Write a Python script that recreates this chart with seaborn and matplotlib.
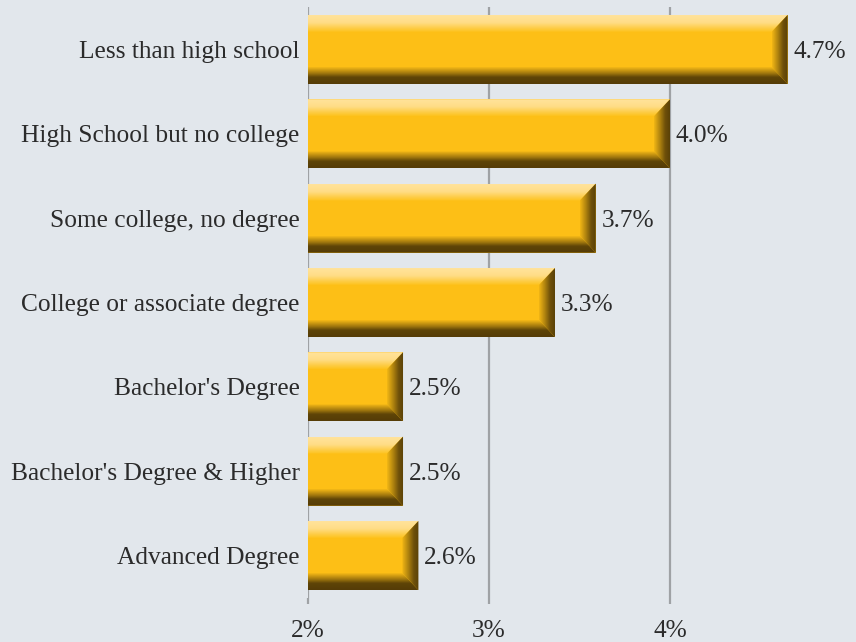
import numpy as np
import pandas as pd
import matplotlib
matplotlib.use("Agg")
import matplotlib.pyplot as plt
from matplotlib.patches import Polygon
from matplotlib.colors import to_rgba
import seaborn as sns

categories = ["Less than high school", "High School but no college",
              "Some college, no degree", "College or associate degree",
              "Bachelor's Degree", "Bachelor's Degree & Higher", "Advanced Degree"]
values = [4.65, 4.00, 3.59, 3.365, 2.525, 2.525, 2.61]
value_labels = ["4.7%", "4.0%", "3.7%", "3.3%", "2.5%", "2.5%", "2.6%"]
x_ticks = [2, 3, 4]
x_tick_labels = ["2%", "3%", "4%"]

BG = "#E2E7EC"
BAR = "#FDBF16"
TXT = "#2B2B2B"
GRID = "#9FA2A5"
FS = 18.3

sns.set_theme(style="white")
plt.rcParams["font.family"] = ["Liberation Serif", "DejaVu Serif"]

W, H = 856, 642
fig = plt.figure(figsize=(W / 100, H / 100), dpi=100, facecolor=BG)
ax_l, ax_r, ax_t, ax_b = 308, 851, 7.3, 597.7
ax = fig.add_axes([ax_l / W, (H - ax_b) / H, (ax_r - ax_l) / W, (ax_b - ax_t) / H])
ax.set_facecolor(BG)

df = pd.DataFrame({"category": categories, "value": values})
sns.barplot(data=df, x="value", y="category", orient="h", color=BAR,
            saturation=1, width=0.82, linewidth=0, edgecolor="none",
            ax=ax, zorder=3)

ax.set_xlim(2, 5)
ax.set_ylim(6.5, -0.5)
ax.set_xlabel("")
ax.set_ylabel("")
for s in ax.spines.values():
    s.set_visible(False)

ax.set_xticks(x_ticks)
ax.set_xticklabels(x_tick_labels, fontsize=FS, color=TXT)
ax.xaxis.grid(True, color=GRID, linewidth=1.6, zorder=0)
ax.set_axisbelow(True)
ax.tick_params(axis="x", bottom=True, length=4, width=1.6, color=GRID, pad=12)
ax.tick_params(axis="y", left=False, length=0, pad=6)
for lab in ax.get_yticklabels():
    lab.set_fontsize(FS)
    lab.set_color(TXT)

pxx = (ax_r - ax_l) / 3.0
pxy = (ax_b - ax_t) / 7.0
bx, by = 16.0 / pxx, 17.0 / pxy


def grad_poly(verts, stops, direction):
    n = 96
    t = np.linspace(0, 1, n)
    pos = [s[0] for s in stops]
    cs = np.array([to_rgba(s[1]) for s in stops])
    cols = np.stack([np.interp(t, pos, cs[:, k]) for k in range(4)], axis=1)
    if direction == "v":
        arr = cols[:, None, :]
    else:
        arr = cols[None, :, :]
    xs = [v[0] for v in verts]
    ys = [v[1] for v in verts]
    poly = Polygon(verts, closed=True, transform=ax.transData,
                   facecolor="none", edgecolor="none")
    im = ax.imshow(arr, extent=(min(xs), max(xs), max(ys), min(ys)),
                   origin="upper", aspect="auto", interpolation="bilinear",
                   zorder=4)
    im.set_clip_path(poly)


for p in list(ax.patches):
    x0 = p.get_x()
    x1 = x0 + p.get_width()
    ya = p.get_y()
    yb = ya + p.get_height()
    # top (light), row 0 = top edge
    grad_poly([(x0, ya), (x1, ya), (x1 - bx, ya + by), (x0 + bx, ya + by)],
              [(0, "#FFE39C"), (0.45, "#FFDD86"), (1, "#FDC21C")], "v")
    # left (light), col 0 = outer edge
    grad_poly([(x0, ya), (x0 + bx, ya + by), (x0 + bx, yb - by), (x0, yb)],
              [(0, "#FFCF4A"), (1, "#FDC019")], "h")
    # right (dark), col 0 = inner edge
    grad_poly([(x1, ya), (x1 - bx, ya + by), (x1 - bx, yb - by), (x1, yb)],
              [(0, "#F2B715"), (0.35, "#B3860F"), (0.7, "#6E500A"), (1, "#5A4107")], "h")
    # bottom (dark), row 0 = inner edge
    grad_poly([(x0, yb), (x1, yb), (x1 - bx, yb - by), (x0 + bx, yb - by)][::1],
              [(0, "#F6BA16"), (0.35, "#A47A0E"), (0.6, "#5E4407"), (1, "#553C07")], "v")

for i, (v, lab) in enumerate(zip(values, value_labels)):
    ax.annotate(lab, xy=(v, i), xytext=(4, 0), textcoords="offset points",
                va="center_baseline", ha="left", fontsize=FS, color=TXT, zorder=5)

ax.set_xlim(2, 5)
ax.set_ylim(6.5, -0.5)

fig.savefig("out.png", dpi=100, facecolor=BG)
